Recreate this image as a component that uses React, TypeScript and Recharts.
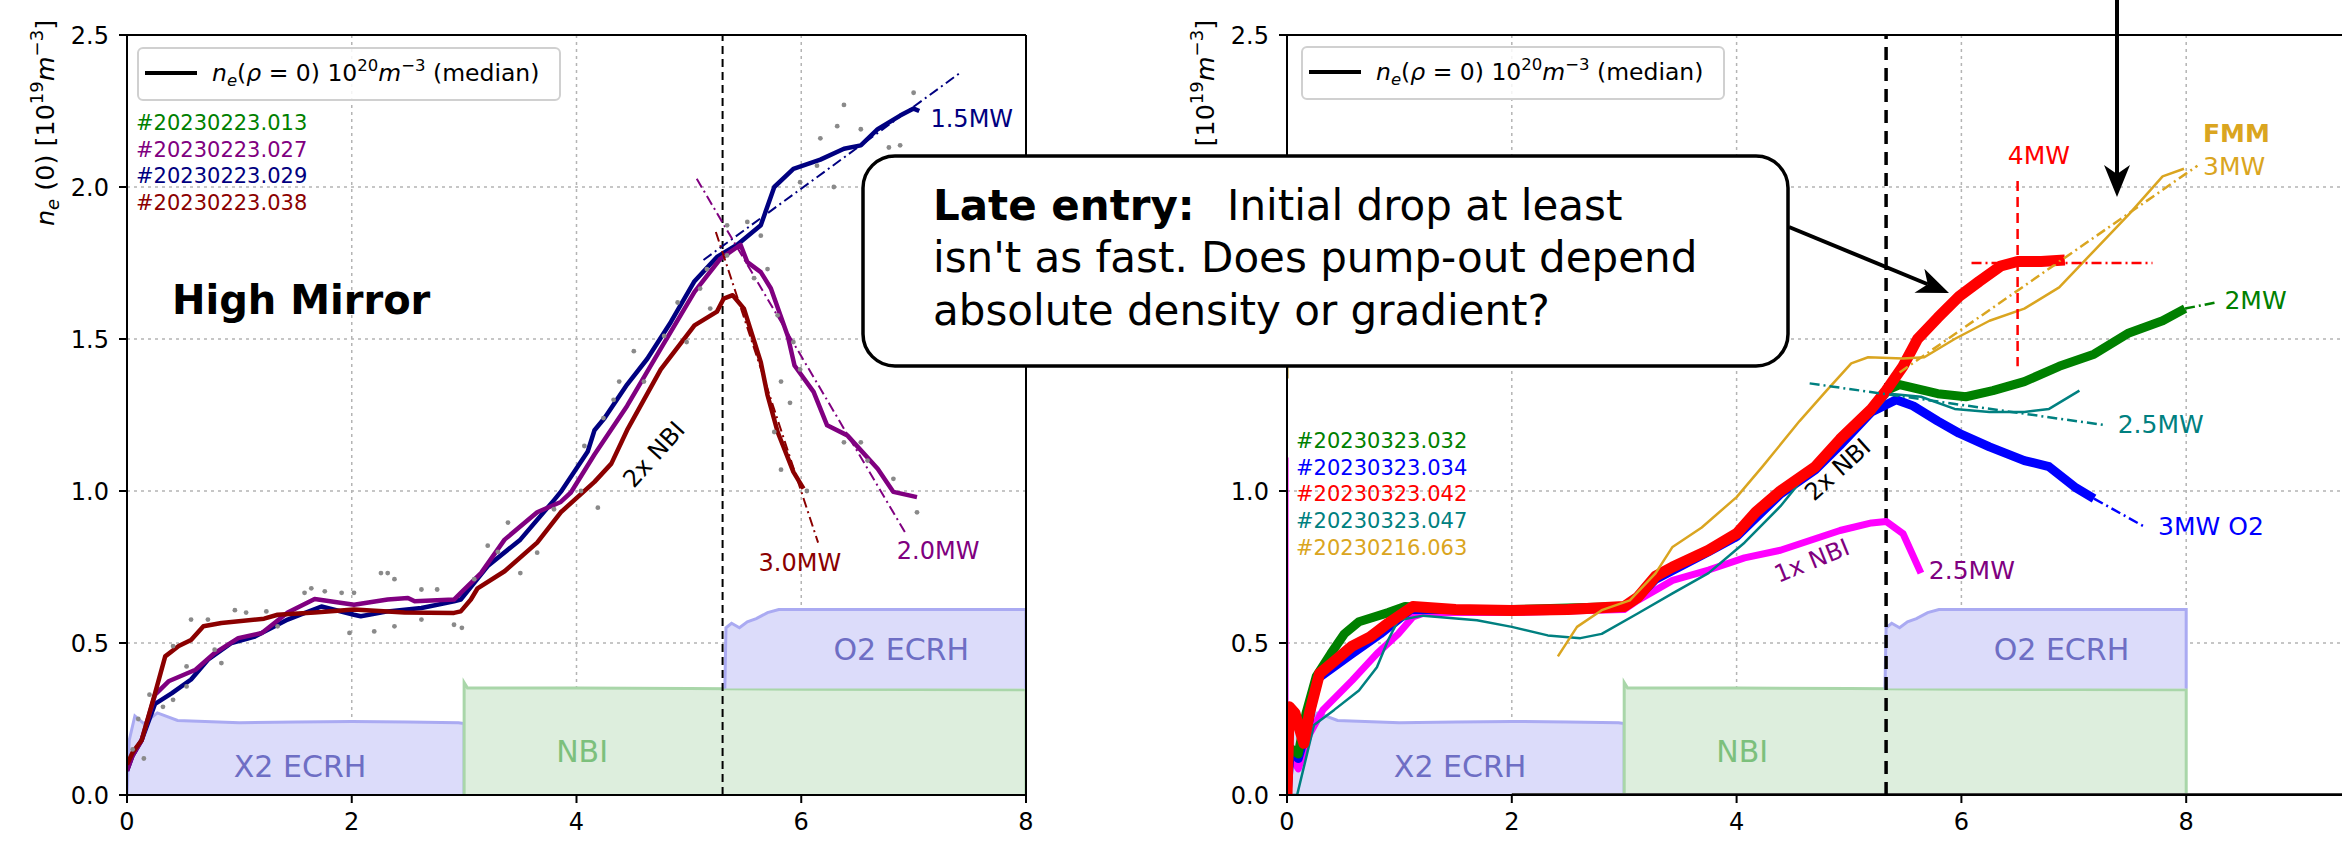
import React from 'react';
import { ComposedChart, Line, Area, XAxis, YAxis, CartesianGrid, ReferenceLine, ReferenceDot, Scatter } from 'recharts';

type P = [number, number];
const xy = (a: P[]) => a.map(([x, y]) => ({ x, y }));

// ---------- heating phases (shared) ----------
const x2Ecrh: P[] = [[0,0],[0.02,0.18],[0.07,0.26],[0.15,0.235],[0.27,0.27],[0.45,0.245],[1,0.238],[1.5,0.24],[2,0.242],[2.5,0.24],[2.95,0.238],[3.0,0.235],[3.0,0]];
const nbi: P[] = [[3.0,0],[3.0,0.37],[3.03,0.352],[4,0.352],[5,0.35],[6,0.348],[7,0.347],[8,0.346],[8,0]];
const o2Ecrh: P[] = [[5.32,0.35],[5.33,0.55],[5.38,0.565],[5.45,0.55],[5.52,0.57],[5.6,0.58],[5.7,0.6],[5.8,0.61],[6.5,0.61],[7.5,0.61],[8,0.61],[8,0.35]];

// ---------- left panel (High Mirror) ----------
const navy029: P[] = [[0.0,0.08],[0.05,0.13],[0.13,0.18],[0.25,0.30],[0.4,0.335],[0.57,0.38],[0.72,0.445],[0.93,0.50],[1.13,0.52],[1.43,0.577],[1.73,0.62],[2.02,0.593],[2.08,0.588],[2.32,0.604],[2.62,0.615],[2.91,0.637],[2.97,0.643],[3.21,0.753],[3.5,0.84],[3.8,0.97],[3.86,0.997],[4.1,1.13],[4.16,1.2],[4.25,1.24],[4.45,1.35],[4.63,1.435],[4.84,1.556],[5.05,1.69],[5.25,1.77],[5.43,1.81],[5.64,1.874],[5.76,2.0],[5.93,2.06],[6.17,2.09],[6.38,2.126],[6.53,2.137],[6.68,2.19],[6.88,2.235],[7.0,2.258],[7.05,2.25]];
const purple027: P[] = [[0.0,0.08],[0.05,0.13],[0.13,0.18],[0.25,0.33],[0.37,0.374],[0.61,0.412],[0.78,0.467],[0.99,0.516],[1.2,0.533],[1.43,0.6],[1.67,0.645],[2.02,0.626],[2.32,0.643],[2.5,0.648],[2.56,0.637],[2.91,0.643],[2.97,0.665],[3.15,0.73],[3.36,0.84],[3.65,0.93],[3.86,0.964],[3.95,0.995],[4.16,1.12],[4.45,1.28],[4.75,1.468],[5.05,1.655],[5.28,1.764],[5.46,1.81],[5.52,1.753],[5.64,1.72],[5.73,1.666],[5.88,1.51],[5.94,1.413],[6.11,1.326],[6.23,1.216],[6.41,1.183],[6.68,1.073],[6.82,0.997],[7.03,0.98]];
const darkred038: P[] = [[0.0,0.1],[0.05,0.14],[0.13,0.18],[0.25,0.335],[0.34,0.456],[0.46,0.49],[0.57,0.51],[0.68,0.555],[0.84,0.566],[1.22,0.58],[1.34,0.593],[1.67,0.60],[2.02,0.61],[2.47,0.60],[2.91,0.599],[2.97,0.604],[3.06,0.643],[3.12,0.68],[3.36,0.736],[3.65,0.83],[3.86,0.93],[4.16,1.03],[4.31,1.09],[4.45,1.2],[4.75,1.40],[5.05,1.545],[5.25,1.59],[5.31,1.633],[5.39,1.644],[5.49,1.6],[5.64,1.424],[5.7,1.315],[5.79,1.194],[5.93,1.063],[6.02,1.008]];
const navyFit: P[] = [[5.13,1.76],[7.43,2.38]];
const purpleFit: P[] = [[5.07,2.027],[6.93,0.86]];
const darkredFit: P[] = [[5.24,1.852],[6.15,0.83]];
const rawDots: P[] = [[0.05,0.15],[0.1,0.25],[0.2,0.33],[0.15,0.12],[0.57,0.577],[0.72,0.577],[0.96,0.608],[1.06,0.6],[1.24,0.604],[1.64,0.68],[1.76,0.67],[1.91,0.665],[2.02,0.665],[2.26,0.73],[2.32,0.73],[2.38,0.71],[2.2,0.538],[2.38,0.555],[2.62,0.577],[2.76,0.676],[2.98,0.55],[2.91,0.56],[3.09,0.71],[3.3,0.8],[3.39,0.896],[3.5,0.73],[3.65,0.797],[3.8,0.94],[4.07,1.148],[4.19,0.945],[4.33,1.3],[0.41,0.49],[0.53,0.423],[0.78,0.478],[0.84,0.434],[0.41,0.313],[0.32,0.29],[0.53,0.357],[1.34,0.555],[1.58,0.665],[1.98,0.533],[2.62,0.676],[3.21,0.82],[4.04,1.0],[4.24,1.24],[4.38,1.36],[4.51,1.46],[4.78,1.51],[4.9,1.62],[5.1,1.666],[5.16,1.73],[5.34,1.874],[5.52,1.885],[5.64,1.84],[5.7,1.73],[5.79,1.578],[5.93,1.49],[5.99,2.016],[6.17,2.16],[6.32,2.2],[6.38,2.27],[6.53,2.19],[6.78,2.13],[6.88,2.137],[7.0,2.31],[5.99,1.4],[5.82,1.36],[5.9,1.29],[5.82,1.07],[6.05,1.0],[6.38,1.16],[6.53,1.16],[6.59,1.1],[6.82,1.04],[7.03,0.93],[6.29,2.0],[6.14,2.07],[5.76,1.194],[5.34,1.775],[5.58,1.70],[5.19,1.6],[4.98,1.49],[4.6,1.36]];

// ---------- right panel ----------
const green032: P[] = [[0.0,0.0],[0.02,0.157],[0.1,0.135],[0.17,0.27],[0.26,0.39],[0.39,0.465],[0.51,0.53],[0.64,0.57],[0.9,0.6],[1.05,0.62],[1.5,0.61],[2.0,0.61],[2.5,0.615],[3.0,0.62],[3.12,0.65],[3.28,0.72],[3.43,0.75],[3.75,0.805],[4.0,0.86],[4.17,0.93],[4.39,1.0],[4.7,1.08],[4.92,1.17],[5.2,1.27],[5.33,1.33],[5.45,1.35],[5.79,1.32],[6.04,1.31],[6.28,1.33],[6.56,1.36],[6.87,1.41],[7.18,1.45],[7.49,1.52],[7.79,1.56],[7.99,1.60]];
const blue034: P[] = [[0.0,0.0],[0.03,0.15],[0.1,0.12],[0.2,0.25],[0.26,0.38],[0.58,0.465],[0.83,0.53],[1.1,0.61],[1.5,0.61],[2.0,0.61],[2.5,0.61],[3.0,0.62],[3.12,0.65],[3.28,0.71],[3.75,0.80],[4.0,0.85],[4.39,0.99],[4.7,1.07],[4.92,1.15],[5.2,1.26],[5.42,1.30],[5.57,1.28],[5.79,1.23],[5.98,1.19],[6.25,1.145],[6.56,1.10],[6.78,1.08],[7.02,1.01],[7.18,0.975]];
const red042: P[] = [[0.0,0.0],[0.02,0.29],[0.07,0.27],[0.15,0.17],[0.2,0.27],[0.29,0.40],[0.42,0.44],[0.58,0.49],[0.74,0.52],[0.9,0.565],[1.12,0.62],[1.5,0.61],[2.0,0.607],[2.5,0.61],[3.0,0.62],[3.12,0.65],[3.28,0.72],[3.43,0.75],[3.75,0.805],[4.0,0.86],[4.17,0.93],[4.39,1.0],[4.7,1.08],[4.92,1.17],[5.2,1.27],[5.33,1.33],[5.48,1.41],[5.61,1.50],[5.79,1.57],[5.98,1.64],[6.16,1.69],[6.35,1.74],[6.5,1.755],[6.71,1.755],[6.92,1.76]];
const teal047: P[] = [[0.0,0.0],[0.09,0.0],[0.24,0.23],[0.42,0.28],[0.64,0.344],[0.8,0.42],[0.9,0.51],[0.99,0.575],[1.21,0.59],[1.69,0.575],[2.0,0.553],[2.32,0.525],[2.61,0.516],[2.8,0.53],[3.12,0.597],[3.43,0.663],[3.75,0.73],[4.07,0.83],[4.39,0.95],[4.61,1.05],[4.87,1.16],[5.2,1.25],[5.36,1.32],[5.64,1.31],[5.94,1.27],[6.25,1.26],[6.56,1.26],[6.78,1.27],[7.05,1.33]];
const gold063: P[] = [[2.41,0.456],[2.58,0.553],[2.8,0.608],[3.05,0.64],[3.28,0.73],[3.43,0.816],[3.69,0.88],[4.0,0.98],[4.23,1.08],[4.56,1.23],[4.80,1.33],[5.02,1.42],[5.17,1.44],[5.48,1.436],[5.67,1.44],[5.94,1.50],[6.25,1.56],[6.56,1.60],[6.87,1.67],[7.18,1.79],[7.49,1.91],[7.79,2.035],[7.98,2.06]];
const magenta1x: P[] = [[0.02,0.2],[0.04,0.124],[0.1,0.086],[0.2,0.2],[0.32,0.28],[0.58,0.377],[0.8,0.465],[0.99,0.53],[1.12,0.586],[1.21,0.597],[1.5,0.6],[2.0,0.6],[2.5,0.605],[3.0,0.61],[3.12,0.64],[3.43,0.706],[3.75,0.74],[4.07,0.78],[4.39,0.805],[4.92,0.87],[5.2,0.895],[5.33,0.90],[5.48,0.86],[5.64,0.73]];
const magentaSpike: P[] = [[0.005,0],[0.005,1.11]];
const goldSpike: P[] = [[0.005,1.37],[0.005,2.1]];
const bottomTrace: P[] = [[2.0,0],[10,0]];
const greenFit: P[] = [[7.99,1.60],[8.26,1.62]];
const blueFit: P[] = [[7.18,0.975],[7.64,0.88]];
const tealFit: P[] = [[4.65,1.354],[7.27,1.217]];
const goldFit: P[] = [[5.45,1.39],[8.10,2.07]];
const redFitV: P[] = [[6.5,2.02],[6.5,1.41]];
const redFitH: P[] = [[6.09,1.75],[7.70,1.75]];

const xTicksL = [0, 2, 4, 6, 8];
const xTicksR = [0, 2, 4, 6, 8];
const yTicks = [0, 0.5, 1.0, 1.5, 2.0, 2.5];
const yTicksHiddenRight = [1.5, 2.0]; // covered by the callout box in the original
const leftShots = ['#20230223.013', '#20230223.027', '#20230223.029', '#20230223.038'];
const leftShotColors = ['#008000', '#800080', '#000080', '#8b0000'];
const rightShots = ['#20230323.032', '#20230323.034', '#20230323.042', '#20230323.047', '#20230216.063'];
const rightShotColors = ['#008000', '#0000ff', '#ff0000', '#008080', '#daa520'];

type Note = { x: number; y: number; t: string; c: string; a?: 'start' | 'middle' | 'end'; r?: number; b?: boolean; s?: number };
const leftNotes: Note[] = [
  { x: 7.15, y: 2.197, t: '1.5MW', c: '#000080' },
  { x: 5.62, y: 0.738, t: '3.0MW', c: '#8b0000' },
  { x: 6.85, y: 0.777, t: '2.0MW', c: '#800080' },
  { x: 4.69, y: 1.12, t: '2x NBI', c: '#000', a: 'middle', r: -48 },
  { x: 0.4, y: 1.583, t: 'High Mirror', c: '#000', b: true, s: 40 },
];
const rightNotes: Note[] = [
  { x: 6.69, y: 2.077, t: '4MW', c: '#ff0000', a: 'middle', s: 25 },
  { x: 8.15, y: 2.147, t: 'FMM', c: '#daa520', b: true, s: 25 },
  { x: 8.15, y: 2.04, t: '3MW', c: '#daa520', s: 25 },
  { x: 8.34, y: 1.60, t: '2MW', c: '#008000', s: 25 },
  { x: 7.39, y: 1.19, t: '2.5MW', c: '#008080', s: 25 },
  { x: 7.75, y: 0.854, t: '3MW O2', c: '#0000ff', s: 25 },
  { x: 5.71, y: 0.71, t: '2.5MW', c: '#800080', s: 25 },
  { x: 4.67, y: 0.77, t: '1x NBI', c: '#800080', a: 'middle', r: -22 },
  { x: 4.9, y: 1.07, t: '2x NBI', c: '#000', a: 'middle', r: -42 },
];
const phaseNotes: Note[] = [
  { x: 1.54, y: 0.06, t: 'X2 ECRH', c: '#6e6ec4', a: 'middle', s: 30 },
  { x: 4.05, y: 0.11, t: 'NBI', c: '#7cc07c', a: 'middle', s: 30 },
  { x: 6.89, y: 0.443, t: 'O2 ECRH', c: '#6e6ec4', a: 'middle', s: 30 },
];

const FONT = 'DejaVu Sans';

const note = (n: Note, k: string) => (
  <ReferenceDot
    key={k}
    x={n.x}
    y={n.y}
    r={0}
    ifOverflow="visible"
    shape={(p: any) => (
      <text
        x={p.cx}
        y={p.cy}
        fill={n.c}
        fontSize={n.s ?? 24}
        fontFamily={FONT}
        fontWeight={n.b ? 'bold' : 'normal'}
        textAnchor={n.a ?? 'start'}
        dominantBaseline={n.r ? 'central' : 'alphabetic'}
        transform={n.r ? `rotate(${n.r},${p.cx},${p.cy})` : undefined}
      >
        {n.t}
      </text>
    )}
  />
);

const line = (d: P[], color: string, w: number, k: string, dash?: string) => (
  <Line
    key={k}
    data={xy(d)}
    dataKey="y"
    type="linear"
    stroke={color}
    strokeWidth={w}
    strokeDasharray={dash}
    dot={false}
    activeDot={false}
    isAnimationActive={false}
    strokeLinejoin="round"
    strokeLinecap="butt"
  />
);

const DASHDOT = '10 4 2 4';

const phases = (p: string) => [
  <Area key={p + 'x2'} data={xy(x2Ecrh)} dataKey="y" type="linear" baseValue={0} fill="#dcdcfa" fillOpacity={1} stroke="#aaaaf2" strokeWidth={3} isAnimationActive={false} />,
  <Area key={p + 'nbi'} data={xy(nbi)} dataKey="y" type="linear" baseValue={0} fill="#ddeedd" fillOpacity={1} stroke="#a9d6a9" strokeWidth={3} isAnimationActive={false} />,
  <Area key={p + 'o2'} data={xy(o2Ecrh)} dataKey="y" type="linear" baseValue={0.35} fill="#dcdcfa" fillOpacity={1} stroke="#aaaaf2" strokeWidth={3} isAnimationActive={false} />,
  ...phaseNotes.map((n, i) => note(n, p + 'pn' + i)),
];

const axes = (ticks: number[], xMax: number, hidden: number[]) => [
  <CartesianGrid key="g" stroke="#b4b4b4" strokeDasharray="3 4" strokeWidth={1.5} />,
  <XAxis
    key="x"
    type="number"
    dataKey="x"
    domain={[0, xMax]}
    ticks={ticks}
    allowDataOverflow
    height={40}
    tickSize={8}
    tickMargin={10}
    axisLine={{ stroke: '#000', strokeWidth: 2 }}
    tickLine={{ stroke: '#000', strokeWidth: 2 }}
    tick={{ fontSize: 24, fill: '#000', fontFamily: FONT }}
  />,
  <YAxis
    key="y"
    type="number"
    dataKey="y"
    domain={[0, 2.5]}
    ticks={yTicks}
    allowDataOverflow
    width={60}
    tickSize={8}
    tickMargin={10}
    tickFormatter={(v: number) => (hidden.includes(v) ? '' : v.toFixed(1))}
    axisLine={{ stroke: '#000', strokeWidth: 2 }}
    tickLine={{ stroke: '#000', strokeWidth: 2 }}
    tick={{ fontSize: 24, fill: '#000', fontFamily: FONT }}
  />,
];

const YLabel = ({ cx }: { cx: number }) => (
  <text transform="rotate(-90)" x={-123} y={cx} textAnchor="middle" fontSize={25.5} fontFamily={FONT} fill="#000">
    <tspan fontStyle="italic">n</tspan>
    <tspan fontStyle="italic" fontSize={18} dy={5}>e</tspan>
    <tspan dy={-5}>{' (0) [10'}</tspan>
    <tspan fontSize={18} dy={-11}>19</tspan>
    <tspan dy={11} fontStyle="italic">m</tspan>
    <tspan fontSize={18} dy={-11}>−3</tspan>
    <tspan dy={11}>]</tspan>
  </text>
);

const LegendBox = ({ x, y }: { x: number; y: number }) => (
  <g>
    <rect x={x} y={y} width={422} height={52} rx={5} fill="#fff" fillOpacity={0.85} stroke="#d0d0d0" strokeWidth={2} />
    <line x1={x + 7} x2={x + 59} y1={y + 25} y2={y + 25} stroke="#000" strokeWidth={4} />
    <text x={x + 74} y={y + 33} fontSize={23.5} fontFamily={FONT} fill="#000">
      <tspan fontStyle="italic">n</tspan>
      <tspan fontStyle="italic" fontSize={16.5} dy={5}>e</tspan>
      <tspan dy={-5}>(</tspan>
      <tspan fontStyle="italic">ρ</tspan>
      <tspan>{' = 0) 10'}</tspan>
      <tspan fontSize={16.5} dy={-10}>20</tspan>
      <tspan dy={10} fontStyle="italic">m</tspan>
      <tspan fontSize={16.5} dy={-10}>−3</tspan>
      <tspan dy={10}>{' (median)'}</tspan>
    </text>
  </g>
);

const arrowHead = (x1: number, y1: number, x2: number, y2: number) => {
  const dx = x2 - x1, dy = y2 - y1;
  const L = Math.hypot(dx, dy);
  const ux = dx / L, uy = dy / L, nx = -uy, ny = ux;
  const hl = 32, hw = 13, notch = 9;
  const p = (a: number, b: number) => `${x2 - a * ux + b * nx},${y2 - a * uy + b * ny}`;
  return {
    shaft: { x2: x2 - (hl - notch) * ux, y2: y2 - (hl - notch) * uy },
    head: `M${x2},${y2} L${p(hl, hw)} L${p(hl - notch, 0)} L${p(hl, -hw)} Z`,
  };
};

const Arrow = ({ x1, y1, x2, y2 }: { x1: number; y1: number; x2: number; y2: number }) => {
  const a = arrowHead(x1, y1, x2, y2);
  return (
    <g>
      <line x1={x1} y1={y1} x2={a.shaft.x2} y2={a.shaft.y2} stroke="#000" strokeWidth={4} />
      <path d={a.head} fill="#000" />
    </g>
  );
};

export default function App() {
  return (
    <div style={{ position: 'absolute', left: 0, top: 0, width: 2342, height: 843, overflow: 'hidden', background: '#fff', fontFamily: FONT }}>
      <div style={{ position: 'absolute', left: 0, top: 0 }}>
        <ComposedChart width={1100} height={843} margin={{ top: 35, right: 74, bottom: 8, left: 67 }}>
          {axes(xTicksL, 8, [])}
          {phases('L')}
          <Scatter data={xy(rawDots)} dataKey="y" isAnimationActive={false} shape={(p: any) => <circle cx={p.cx} cy={p.cy} r={2.4} fill="#8a8a8a" />} />
          <ReferenceLine x={5.3} stroke="#000" strokeWidth={2} strokeDasharray="8 5" />
          {line(navy029, '#000080', 4.5, 'n')}
          {line(purple027, '#800080', 4.5, 'p')}
          {line(darkred038, '#8b0000', 4.5, 'r')}
          {line(navyFit, '#000080', 2, 'nf', DASHDOT)}
          {line(purpleFit, '#800080', 2, 'pf', DASHDOT)}
          {line(darkredFit, '#8b0000', 2, 'rf', DASHDOT)}
          <ReferenceLine y={2.5} stroke="#000" strokeWidth={2} />
          <ReferenceLine x={8} stroke="#000" strokeWidth={2} />
          {leftNotes.map((n, i) => note(n, 'ln' + i))}
        </ComposedChart>
      </div>
      <div style={{ position: 'absolute', left: 1150, top: 0 }}>
        <ComposedChart width={1281} height={843} margin={{ top: 35, right: 20, bottom: 8, left: 77 }}>
          {axes(xTicksR, 10, yTicksHiddenRight)}
          {phases('R')}
          {line(bottomTrace, '#454545', 4, 'bt')}
          <ReferenceLine x={5.33} stroke="#000" strokeWidth={3.5} strokeDasharray="13 8" />
          {line(magentaSpike, '#ff00ff', 2, 'ms')}
          {line(goldSpike, '#b08a20', 2, 'gs')}
          {line(magenta1x, '#ff00ff', 7, 'm')}
          {line(blue034, '#0000ff', 9, 'b')}
          {line(green032, '#008000', 9, 'g')}
          {line(teal047, '#008080', 2.5, 't')}
          {line(red042, '#ff0000', 11, 'r')}
          {line(gold063, '#daa520', 2.5, 'o')}
          {line(greenFit, '#008000', 2.5, 'gf', DASHDOT)}
          {line(blueFit, '#0000ff', 2.5, 'bf', DASHDOT)}
          {line(tealFit, '#008080', 2.5, 'tf', DASHDOT)}
          {line(goldFit, '#daa520', 2.5, 'of', DASHDOT)}
          {line(redFitV, '#ff0000', 2.5, 'rv', '10 6')}
          {line(redFitH, '#ff0000', 2.5, 'rh', DASHDOT)}
          <ReferenceLine y={2.5} stroke="#000" strokeWidth={2} />
          {rightNotes.map((n, i) => note(n, 'rn' + i))}
        </ComposedChart>
      </div>
      <svg width={2342} height={843} style={{ position: 'absolute', left: 0, top: 0, pointerEvents: 'none' }}>
        <YLabel cx={54} />
        <YLabel cx={1214} />
        <LegendBox x={138} y={48} />
        <LegendBox x={1302} y={47} />
        {leftShots.map((s, i) => (
          <text key={s} x={136} y={130 + i * 26.7} fontSize={21} fontFamily={FONT} fill={leftShotColors[i]}>{s}</text>
        ))}
        {rightShots.map((s, i) => (
          <text key={s} x={1296} y={448 + i * 26.7} fontSize={21} fontFamily={FONT} fill={rightShotColors[i]}>{s}</text>
        ))}
        <rect x={863} y={156} width={925} height={210} rx={32} fill="#fff" stroke="#000" strokeWidth={3.5} />
        <text x={933} y={220} fontSize={42} fontFamily={FONT} fill="#000">
          <tspan fontWeight="bold">Late entry:</tspan>
          <tspan x={1227}>Initial drop at least</tspan>
        </text>
        <text x={933} y={272} fontSize={42} fontFamily={FONT} fill="#000">isn't as fast. Does pump-out depend</text>
        <text x={933} y={325} fontSize={42} fontFamily={FONT} fill="#000">absolute density or gradient?</text>
        <Arrow x1={1789} y1={227} x2={1949} y2={293} />
        <Arrow x1={2117} y1={0} x2={2117} y2={197} />
      </svg>
    </div>
  );
}
